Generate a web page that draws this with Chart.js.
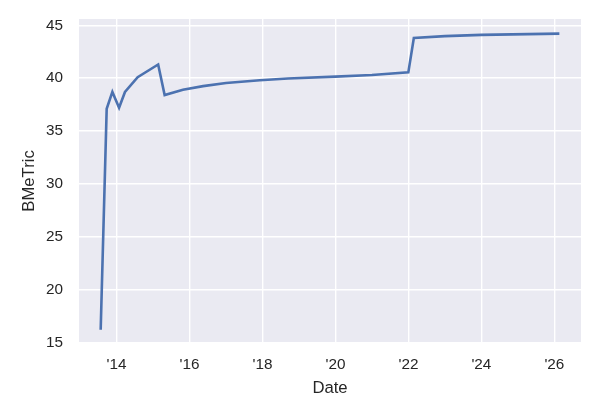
<!DOCTYPE html>
<html>
<head>
<meta charset="utf-8">
<script src="https://cdn.jsdelivr.net/npm/chart.js@4"></script>
<style>
  html, body { margin: 0; padding: 0; background: #ffffff; }
  #wrap { width: 600px; height: 420px; }
</style>
</head>
<body>
<div id="wrap"><canvas id="chart" width="600" height="420"></canvas></div>
<script>
// Dates, values off the BMeTric axis
const dates = [
  "2013-07-26", "2013-09-24", "2013-11-20", "2014-01-26", "2014-03-26",
  "2014-07-31", "2015-02-21", "2015-04-27", "2015-10-27", "2016-05-16",
  "2017-01-01", "2017-12-05", "2018-09-13", "2020-01-01", "2021-01-01",
  "2021-12-31", "2022-02-24", "2023-01-01", "2024-01-01", "2026-02-20"
];
const values = [
  16.2, 37.1, 38.7, 37.2, 38.7,
  40.1, 41.3, 38.4, 38.9, 39.25,
  39.55, 39.8, 39.97, 40.15, 40.3,
  40.55, 43.8, 43.98, 44.1, 44.22
];
const xTicks = [2014, 2016, 2018, 2020, 2022, 2024, 2026];
const yTicks = [15, 20, 25, 30, 35, 40, 45];

// Convert "YYYY-MM-DD" to a decimal year
const toYear = (s) => {
  const d = new Date(s + "T00:00:00Z");
  const y = d.getUTCFullYear();
  const start = Date.UTC(y, 0, 1);
  const end = Date.UTC(y + 1, 0, 1);
  return y + (d.getTime() - start) / (end - start);
};

const points = dates.map((d, i) => ({ x: toYear(d), y: values[i] }));

// Seaborn-like grey plot background
const plotBackground = {
  id: "plotBackground",
  beforeDraw(chart) {
    const { ctx, chartArea } = chart;
    ctx.save();
    ctx.fillStyle = "#EAEAF2";
    ctx.fillRect(chartArea.left, chartArea.top, chartArea.right - chartArea.left, chartArea.bottom - chartArea.top);
    ctx.restore();
  }
};

const tickFont = { family: "'Liberation Sans', Arial, sans-serif", size: 15.3 };
const titleFont = { family: "'Liberation Sans', Arial, sans-serif", size: 16.7 };

const ctx = document.getElementById("chart").getContext("2d");
new Chart(ctx, {
  type: "line",
  data: {
    datasets: [{
      data: points,
      borderColor: "#4C72B0",
      borderWidth: 2.6,
      pointRadius: 0,
      tension: 0,
      fill: false
    }]
  },
  plugins: [plotBackground],
  options: {
    responsive: false,
    animation: false,
    layout: { padding: { top: 19, right: 19, left: 0, bottom: 0 } },
    plugins: { legend: { display: false }, tooltip: { enabled: false } },
    scales: {
      x: {
        type: "linear",
        min: 2012.97,
        max: 2026.73,
        afterBuildTicks: (scale) => { scale.ticks = xTicks.map(v => ({ value: v })); },
        afterFit: (scale) => {
          scale.height = 77;
          scale.paddingLeft = 0;
          scale.paddingRight = 0;
        },
        grid: { color: "#ffffff", lineWidth: 1.4, drawTicks: false },
        border: { display: false },
        ticks: {
          color: "#262626",
          font: tickFont,
          padding: 13,
          maxRotation: 0,
          callback: (v) => "'" + String(v).slice(2)
        },
        title: { display: true, text: "Date", color: "#262626", font: titleFont, padding: { bottom: 22 } }
      },
      y: {
        min: 14.95,
        max: 45.6,
        afterBuildTicks: (scale) => { scale.ticks = yTicks.map(v => ({ value: v })); },
        afterFit: (scale) => {
          scale.width = 79;
          scale.paddingTop = 0;
          scale.paddingBottom = 0;
        },
        grid: { color: "#ffffff", lineWidth: 1.4, drawTicks: false },
        border: { display: false },
        ticks: { color: "#262626", font: tickFont, padding: 16 },
        title: { display: true, text: "BMeTric", color: "#262626", font: titleFont, padding: { top: 19 } }
      }
    }
  }
});
</script>
</body>
</html>
